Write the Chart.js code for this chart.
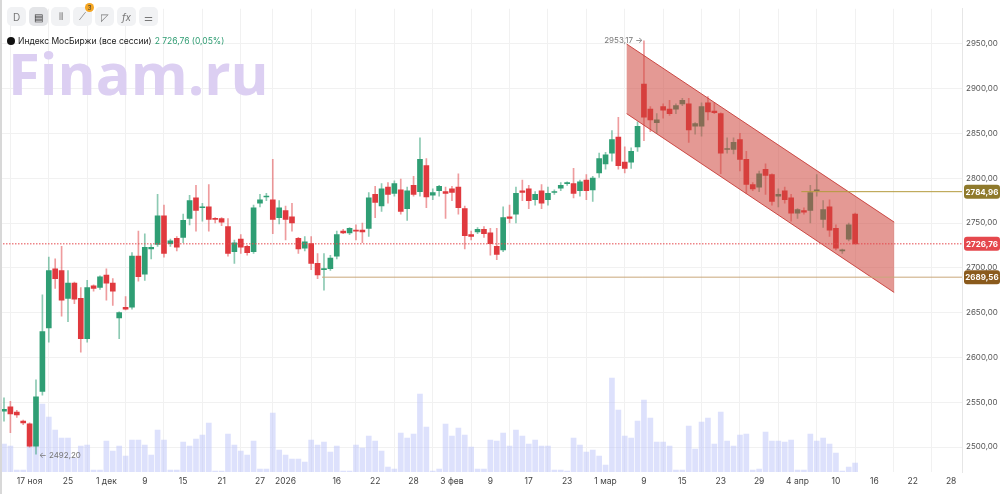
<!DOCTYPE html>
<html><head><meta charset="utf-8">
<script src="https://cdn.jsdelivr.net/npm/chart.js@4/dist/chart.umd.min.js"></script>
<style>
html,body{margin:0;padding:0;background:#fff;width:1000px;height:494px;overflow:hidden;font-family:Inter,Roboto,sans-serif}
#wrap{position:absolute;left:0;top:0;width:1000px;height:494px}
#tb{position:absolute;left:7px;top:7px;display:flex;gap:3px}
.b{width:19px;height:19px;border-radius:5px;background:#f1f2f4;color:#777;font-size:10px;display:flex;align-items:center;justify-content:center}
.b.s{background:#e4e5e8;color:#333}
#badge{position:absolute;left:85px;top:3px;width:9px;height:9px;border-radius:50%;background:#f5a623;color:#333;font-size:6px;text-align:center;line-height:9px}
#title{position:absolute;left:7px;top:36px;font-size:8.5px;color:#222;display:flex;align-items:center;gap:3px}
#title .dot{width:8px;height:8px;border-radius:50%;background:#111}
#title .g{color:#2e9c72}
#wm{position:absolute;left:8px;top:40px;font-size:58px;line-height:66px;font-weight:700;color:#dccff2;font-family:"Open Sans",Roboto,sans-serif}
#edge{position:absolute;left:0;top:0;width:2px;height:494px;background:#d8d8d8}
</style></head><body>
<div id="wrap">
<div id="wm">Finam.ru</div>
<canvas id="c" width="1000" height="494"></canvas>
<div id="edge"></div>
<div id="tb"><div class="b">D</div><div class="b s">▤</div><div class="b">⫴</div><div class="b">⟋</div><div class="b">◸</div><div class="b"><i>fx</i></div><div class="b">⚌</div></div>
<div id="badge">3</div>
<div id="title"><span class="dot"></span><span>Индекс МосБиржи (все сессии)</span><span class="g">2 726,76 (0,05%)</span></div>
</div>
<script>
const openP=[2540,2545,2539,2529,2526,2501,2562,2633,2699,2697,2666,2683,2666,2621,2680,2678,2692,2683,2644,2656,2656,2713,2693,2721,2726,2758,2727,2733,2734,2755,2778,2767,2768,2755,2755,2746,2718,2732,2724,2718,2772,2779,2776,2756,2764,2757,2733,2722,2727,2705,2698,2699,2713,2741,2739,2742,2742,2744,2782,2769,2790,2783,2787,2766,2792,2785,2814,2781,2786,2785,2788,2790,2766,2737,2740,2743,2739,2724,2720,2757,2760,2786,2788,2776,2786,2776,2784,2789,2794,2794,2786,2798,2787,2806,2816,2828,2846,2818,2818,2835,2905,2877,2862,2880,2877,2877,2883,2883,2858,2858,2884,2875,2872,2832,2832,2843,2821,2793,2790,2810,2804,2780,2786,2778,2761,2764,2764,2786,2754,2768,2744,2719,2732,2760];
const highP=[2555,2551,2541,2530,2527,2575,2670,2712,2710,2724,2697,2684,2678,2686,2681,2691,2699,2688,2651,2668,2717,2741,2738,2726,2782,2770,2732,2735,2760,2781,2792,2772,2793,2756,2756,2755,2731,2737,2725,2770,2782,2783,2821,2775,2769,2772,2734,2735,2735,2716,2716,2714,2741,2743,2745,2748,2750,2784,2791,2794,2795,2797,2799,2790,2802,2845,2822,2788,2792,2790,2791,2805,2769,2741,2745,2746,2744,2744,2768,2770,2790,2798,2792,2785,2793,2790,2787,2795,2796,2811,2798,2804,2802,2828,2829,2853,2868,2835,2834,2863,2953.17,2880,2872,2883,2887,2883,2889,2889,2862,2884,2891,2884,2873,2845,2845,2850,2830,2795,2808,2816,2805,2788,2790,2782,2766,2767,2792,2804,2775,2776,2748,2721,2750,2761];
const lowP=[2529,2516,2533,2525,2500,2492.2,2558,2617,2677,2646,2640,2660,2606,2617,2674,2676,2664,2658,2621,2653,2654,2685,2686,2710,2724,2712,2724,2719,2728,2748,2741,2752,2741,2750,2747,2713,2705,2716,2714,2716,2768,2775,2738,2749,2731,2741,2716,2719,2698,2688,2675,2697,2710,2738,2737,2731,2728,2735,2756,2763,2772,2780,2760,2753,2780,2780,2767,2776,2780,2755,2775,2760,2721,2731,2738,2734,2714,2709,2718,2750,2750,2775,2766,2770,2766,2770,2782,2786,2792,2778,2780,2776,2774,2801,2810,2819,2810,2806,2811,2830,2842,2852,2850,2867,2870,2872,2881,2840,2849,2847,2865,2872,2805,2828,2827,2808,2783,2786,2785,2782,2770,2768,2772,2752,2755,2760,2750,2780,2745,2735,2720,2716,2730,2726.76];
const closeP=[2542,2537,2536,2527,2501,2556,2629,2697,2688,2664,2683,2665,2621,2678,2677,2690,2683,2674,2650,2654,2713,2690,2723,2723,2758,2716,2730,2723,2753,2775,2764,2768,2754,2754,2751,2716,2728,2723,2717,2767,2776,2780,2754,2767,2754,2750,2721,2729,2705,2692,2699,2711,2737,2739,2744,2741,2740,2778,2773,2788,2782,2794,2763,2786,2782,2821,2779,2784,2791,2783,2784,2767,2736,2735,2743,2738,2727,2715,2756,2755,2783,2784,2775,2782,2772,2783,2785,2792,2795,2783,2796,2786,2800,2822,2826,2843,2814,2811,2830,2858,2868,2865,2865,2876,2872,2881,2887,2854,2861,2880,2874,2873,2828,2833,2840,2821,2793,2788,2805,2803,2774,2782,2776,2761,2765,2762,2784,2787,2765,2742,2722,2720,2748,2726.76];
const volumes=[28,26,2,2,32,30,68,55,42,34,34,14,26,27,2,2,31,21,26,16,32,32,27,17,42,32,2,2,30,26,33,37,49,1,1,38,27,21,17,31,3,3,59,22,17,13,13,10,32,27,30,20,26,1,1,27,24,36,31,21,5,3,39,34,38,78,45,1,3,48,36,44,37,25,3,3,32,31,39,26,42,36,28,32,26,26,2,2,1,34,27,20,22,16,7,94,62,36,34,51,72,54,30,30,26,2,2,46,23,50,54,28,60,31,26,37,38,2,3,40,31,31,30,32,2,2,38,31,34,28,19,1,5,9];
const tickIdx=[4,10,16,22,28,34,40,44,52,58,64,70,76,82,88,94,100,106,112,118,124,130,136,142,148];
const tickLabels=['17 ноя','25','1 дек','9','15','21','27','2026','16','22','28','3 фев','9','17','23','1 мар','9','15','23','29','4 апр','10','16','22','28'];
const priceTicks=[2500,2550,2600,2650,2700,2750,2800,2850,2900,2950];
const lastPrice=2726.76, levelA=2784.96, levelB=2689.56, maxHigh=2953.17, minLow=2492.20;
const channelUpper=[[97.3,2949.7],[139.1,2751]], channelLower=[[97.3,2872],[139.1,2672.5]];
const levelAStart=124.6, levelBStart=49.7;

const G='#2f9e74', R='#e0393e';
const up=i=>closeP[i]>=openP[i];
const bodies=openP.map((o,i)=>({x:i,y:[o,closeP[i]]}));
const wicks=openP.map((o,i)=>({x:i,y:[lowP[i],highP[i]]}));
const vols=volumes.map((v,i)=>({x:i,y:v}));
const fmt=v=>v.toFixed(2).replace('.',',');

const overlay={id:'ov',
 afterDatasetsDraw(c){
  const x=c.scales.x,y=c.scales.y,ctx=c.ctx,a=c.chartArea;
  ctx.save();
  const p=(q)=>[x.getPixelForValue(q[0]),y.getPixelForValue(q[1])];
  const u0=p(channelUpper[0]),u1=p(channelUpper[1]),l0=p(channelLower[0]),l1=p(channelLower[1]);
  ctx.beginPath();ctx.moveTo(...u0);ctx.lineTo(...u1);ctx.lineTo(...l1);ctx.lineTo(...l0);ctx.closePath();
  ctx.fillStyle='rgba(205,70,60,0.55)';ctx.fill();
  ctx.strokeStyle='rgba(200,60,55,0.9)';ctx.lineWidth=1;
  ctx.beginPath();ctx.moveTo(...u0);ctx.lineTo(...u1);ctx.moveTo(...l0);ctx.lineTo(...l1);ctx.stroke();
  let ya=y.getPixelForValue(levelA);
  ctx.strokeStyle='#b39a3c';ctx.beginPath();ctx.moveTo(x.getPixelForValue(levelAStart),ya);ctx.lineTo(a.right,ya);ctx.stroke();
  let yb=y.getPixelForValue(levelB);
  ctx.strokeStyle='#c9a77a';ctx.beginPath();ctx.moveTo(x.getPixelForValue(levelBStart),yb);ctx.lineTo(a.right,yb);ctx.stroke();
  let yl=y.getPixelForValue(lastPrice);
  ctx.strokeStyle='#e5484d';ctx.setLineDash([1.5,1.5]);ctx.beginPath();ctx.moveTo(a.left,yl);ctx.lineTo(a.right,yl);ctx.stroke();ctx.setLineDash([]);
  ctx.font='8px Inter, Roboto, sans-serif';ctx.fillStyle='#777';ctx.textBaseline='middle';
  ctx.textAlign='right';ctx.fillText(fmt(maxHigh)+' →',x.getPixelForValue(100)-1,y.getPixelForValue(maxHigh));
  ctx.textAlign='left';ctx.fillText('← '+fmt(minLow),x.getPixelForValue(5)+3,y.getPixelForValue(minLow)+2);
  const box=(v,bg)=>{const yy=y.getPixelForValue(v);ctx.fillStyle=bg;ctx.beginPath();ctx.roundRect(a.right+2,yy-7,36,14,3);ctx.fill();
   ctx.fillStyle='#fff';ctx.font='bold 8px Inter, Roboto, sans-serif';ctx.textAlign='center';ctx.fillText(fmt(v),a.right+20,yy+0.5);};
  box(levelA,'#8f7a2c');box(lastPrice,'#e5484d');box(levelB,'#8a5a1c');
  ctx.restore();
 }};

new Chart(document.getElementById('c'),{
 data:{datasets:[
  {type:'bar',data:bodies,yAxisID:'y',order:1,barThickness:5,grouped:false,minBarLength:1,
   backgroundColor:bodies.map((d,i)=>up(i)?G:R),borderWidth:0},
  {type:'bar',data:wicks,yAxisID:'y',order:2,barThickness:1,grouped:false,
   backgroundColor:wicks.map((d,i)=>up(i)?'rgba(47,158,116,0.55)':'rgba(224,57,62,0.5)'),borderWidth:0},
  {type:'bar',data:vols,yAxisID:'v',order:3,barThickness:5,grouped:false,backgroundColor:'rgba(188,196,250,0.5)',borderWidth:0}
 ]},
 options:{responsive:false,animation:false,devicePixelRatio:1,
  layout:{padding:0},
  plugins:{legend:{display:false},tooltip:{enabled:false}},
  scales:{
   x:{type:'linear',min:-0.625,max:149.7,offset:false,
    afterBuildTicks:s=>{s.ticks=tickIdx.map(v=>({value:v}));},
    afterFit:s=>{s.height=22;},
    ticks:{autoSkip:false,maxRotation:0,padding:4,color:'#444',font:{size:8.5,family:'Inter, Roboto, sans-serif'},
     callback:(v)=>{const k=tickIdx.indexOf(v);return k>=0?tickLabels[k]:'';}},
    grid:{color:'#f1f1f1',drawTicks:false},border:{display:false}},
   y:{position:'right',min:2472.2,max:2989.0,
    afterBuildTicks:s=>{s.ticks=priceTicks.map(v=>({value:v}));},
    afterFit:s=>{s.width=38;},
    ticks:{padding:4,color:'#555',font:{size:8,family:'Inter, Roboto, sans-serif'},callback:v=>fmt(v)},
    grid:{color:'#f1f1f1',drawTicks:false},border:{display:true,color:'#e6e6e6'}},
   v:{display:false,min:0,max:464}
  }},
 plugins:[overlay]
});
</script>
</body></html>
